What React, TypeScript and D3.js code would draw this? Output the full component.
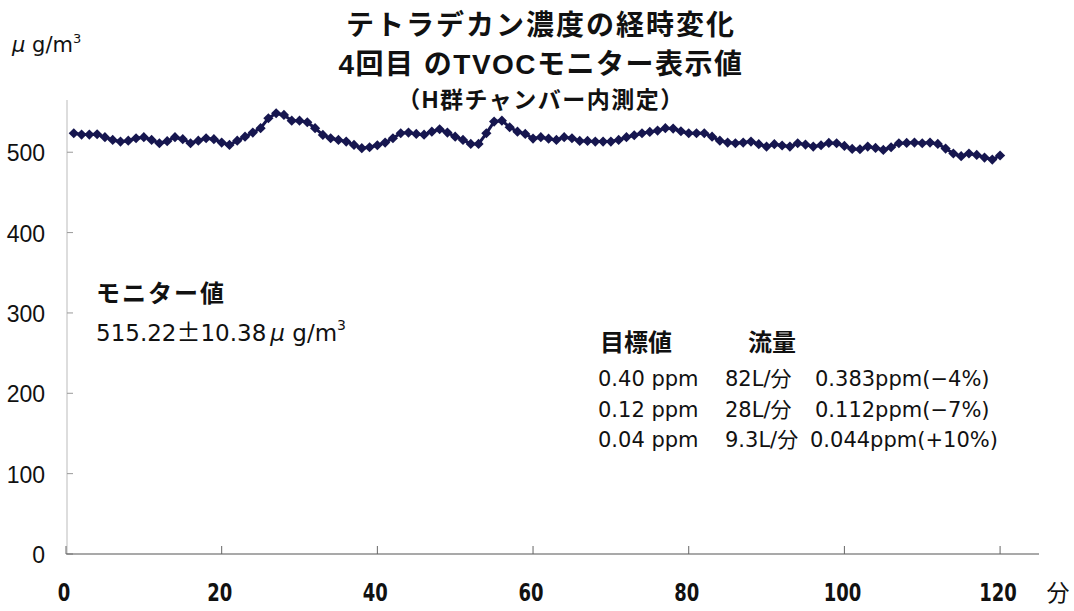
import React from "react";
import * as d3 from "d3";

// ---- data ----
const values: number[] = [
  523.6, 522, 522, 522.4, 518.7, 515.3, 513.2, 514.4, 517.4, 518.7,
  515.3, 511.2, 513.7, 518.7, 516.2, 511.2, 514.4, 517.4, 516.2, 512,
  509.1, 514.4, 519.4, 524.4, 529.9, 542.3, 548.5, 546.4, 539.3, 539.3,
  537.3, 529.9, 521.5, 517.4, 515.3, 513.2, 509.1, 505, 506.2, 508.7,
  512, 517.4, 523.6, 524.4, 522.8, 521.9, 525.6, 528.6, 524.4, 519.4,
  515.3, 510.3, 510.3, 523.6, 538.1, 539.3, 531.1, 525.6, 522.8, 517,
  518.7, 516.9, 515.3, 518.7, 517.4, 514.1, 514.1, 513.2, 513.2, 513.2,
  515.3, 518.7, 521.1, 523.6, 525.3, 526.9, 529.9, 529.4, 526.1, 523.6,
  523.6, 523.6, 519.4, 514.4, 512, 511.2, 512, 513.2, 510, 507,
  510, 508.4, 507, 511.2, 509.5, 507, 508.7, 511.6, 511.2, 507.9,
  504.1, 503.7, 507, 505.4, 502.9, 506.2, 511.2, 511.6, 512, 511.2,
  512, 510.3, 504.6, 498.4, 495.1, 498.4, 496.7, 493.4, 490.9, 495.9,
];
const yTicks = [0, 100, 200, 300, 400, 500];
const xTicks = [0, 20, 40, 60, 80, 100, 120];
const titleLines = ["テトラデカン濃度の経時変化", "4回目 のTVOCモニター表示値", "（H群チャンバー内測定）"];
const monitorLabel = "モニター値";
const monitorMean = "515.22";
const monitorSd = "10.38";
const tableHeader = ["目標値", "流量"];
const tableRows = [
  ["0.40 ppm", "82L/", "0.383ppm(−4%)"],
  ["0.12 ppm", "28L/", "0.112ppm(−7%)"],
  ["0.04 ppm", "9.3L/", "0.044ppm(+10%)"],
];
const xUnit = "分";

const W = 1074;
const H = 611;
const CJK = "'Noto Sans CJK JP'";
const LATIN = "'DejaVu Sans', " + CJK;
const ARIAL = "'Liberation Sans', " + CJK;
const INK = "#111";
const SERIES = "#16164f";

export default function App() {
  const x = d3.scaleLinear().domain([0, 125]).range([66, 1039]);
  const y = d3.scaleLinear().domain([0, 565]).range([554, 100]);
  const pts = values.map((v, i) => [x(i + 1), y(v)] as [number, number]);
  const line = d3.line<[number, number]>()(pts) || "";
  const diamond = d3.symbol().type(d3.symbolSquare).size(52)() || "";

  return (
    <svg width={W} height={H} style={{ position: "absolute", left: 0, top: 0, background: "#fff" }}>
      <rect width={W} height={H} fill="#fff" />
      {/* titles */}
      <text x={541} y={35} textAnchor="middle" fontFamily={ARIAL} fontWeight="bold" fontSize={28} letterSpacing={2} fill={INK}>{titleLines[0]}</text>
      <text x={541} y={74} textAnchor="middle" fontFamily={ARIAL} fontWeight="bold" fontSize={28} letterSpacing={1.5} fill={INK}>{titleLines[1]}</text>
      <text x={541} y={108} textAnchor="middle" fontFamily={ARIAL} fontWeight="bold" fontSize={23} letterSpacing={1.5} fill={INK}>{titleLines[2]}</text>

      {/* y unit */}
      <text x={12} y={52} fontFamily={LATIN} fontSize={21} fill={INK}>
        <tspan fontStyle="italic">μ</tspan>
        <tspan> g/m</tspan>
        <tspan fontSize={13} dy={-9}>3</tspan>
      </text>

      {/* y axis */}
      <line x1={x(0) + 1} x2={x(0) + 1} y1={y(565)} y2={y(0)} stroke="#bbb" strokeWidth={1} />
      {yTicks.map((t) => (
        <g key={"y" + t}>
          <line x1={x(0) + 1} x2={x(0) + 7} y1={y(t)} y2={y(t)} stroke="#999" strokeWidth={1} />
          <text x={45} y={y(t) + 9} textAnchor="end" fontFamily={ARIAL} fontSize={23} fill={INK}>{t}</text>
        </g>
      ))}

      {/* x axis */}
      <line x1={x(0)} x2={x(125)} y1={y(0)} y2={y(0)} stroke="#555" strokeWidth={1.2} />
      {xTicks.map((t) => (
        <g key={"x" + t}>
          <line x1={x(t)} x2={x(t)} y1={y(0)} y2={y(0) - 8} stroke="#666" strokeWidth={1} />
          <text transform={`translate(${x(t) - 2},601) scale(0.72,1)`} textAnchor="middle" fontFamily={LATIN} fontWeight="bold" fontSize={25} fill={INK}>{t}</text>
        </g>
      ))}
      <text x={1058} y={601} textAnchor="middle" fontFamily={CJK} fontSize={23} fill={INK}>{xUnit}</text>

      {/* series */}
      <path d={line} fill="none" stroke={SERIES} strokeWidth={3} />
      {pts.map(([px, py], i) => (
        <path key={i} d={diamond} transform={`translate(${px},${py}) rotate(45)`} fill={SERIES} />
      ))}

      {/* monitor annotation */}
      <text x={96} y={302} fontFamily={CJK} fontWeight="bold" fontSize={24} letterSpacing={2} fill={INK}>{monitorLabel}</text>
      <text x={96} y={341} fontFamily={LATIN} fontSize={23} fill={INK}>
        <tspan>{monitorMean}</tspan>
        <tspan fontFamily={CJK} fontSize={24}>±</tspan>
        <tspan>{monitorSd}</tspan>
        <tspan fontStyle="italic" dx={4}>μ</tspan>
        <tspan> g/m</tspan>
        <tspan fontSize={14} dy={-11}>3</tspan>
      </text>

      {/* target table */}
      <text x={600} y={351} fontFamily={CJK} fontWeight="bold" fontSize={24} fill={INK}>{tableHeader[0]}</text>
      <text x={748} y={351} fontFamily={CJK} fontWeight="bold" fontSize={24} fill={INK}>{tableHeader[1]}</text>
      {tableRows.map((r, i) => (
        <g key={"r" + i}>
          <text x={598} y={386 + i * 30.5} fontFamily={LATIN} fontSize={21} fill={INK}>{r[0]}</text>
          <text x={725} y={386 + i * 30.5} fontFamily={LATIN} fontSize={21} fill={INK}>
            <tspan>{r[1]}</tspan>
            <tspan>{xUnit}</tspan>
          </text>
          <text x={i === 2 ? 810 : 815} y={386 + i * 30.5} fontFamily={LATIN} fontSize={21} fill={INK}>{r[2]}</text>
        </g>
      ))}
    </svg>
  );
}
